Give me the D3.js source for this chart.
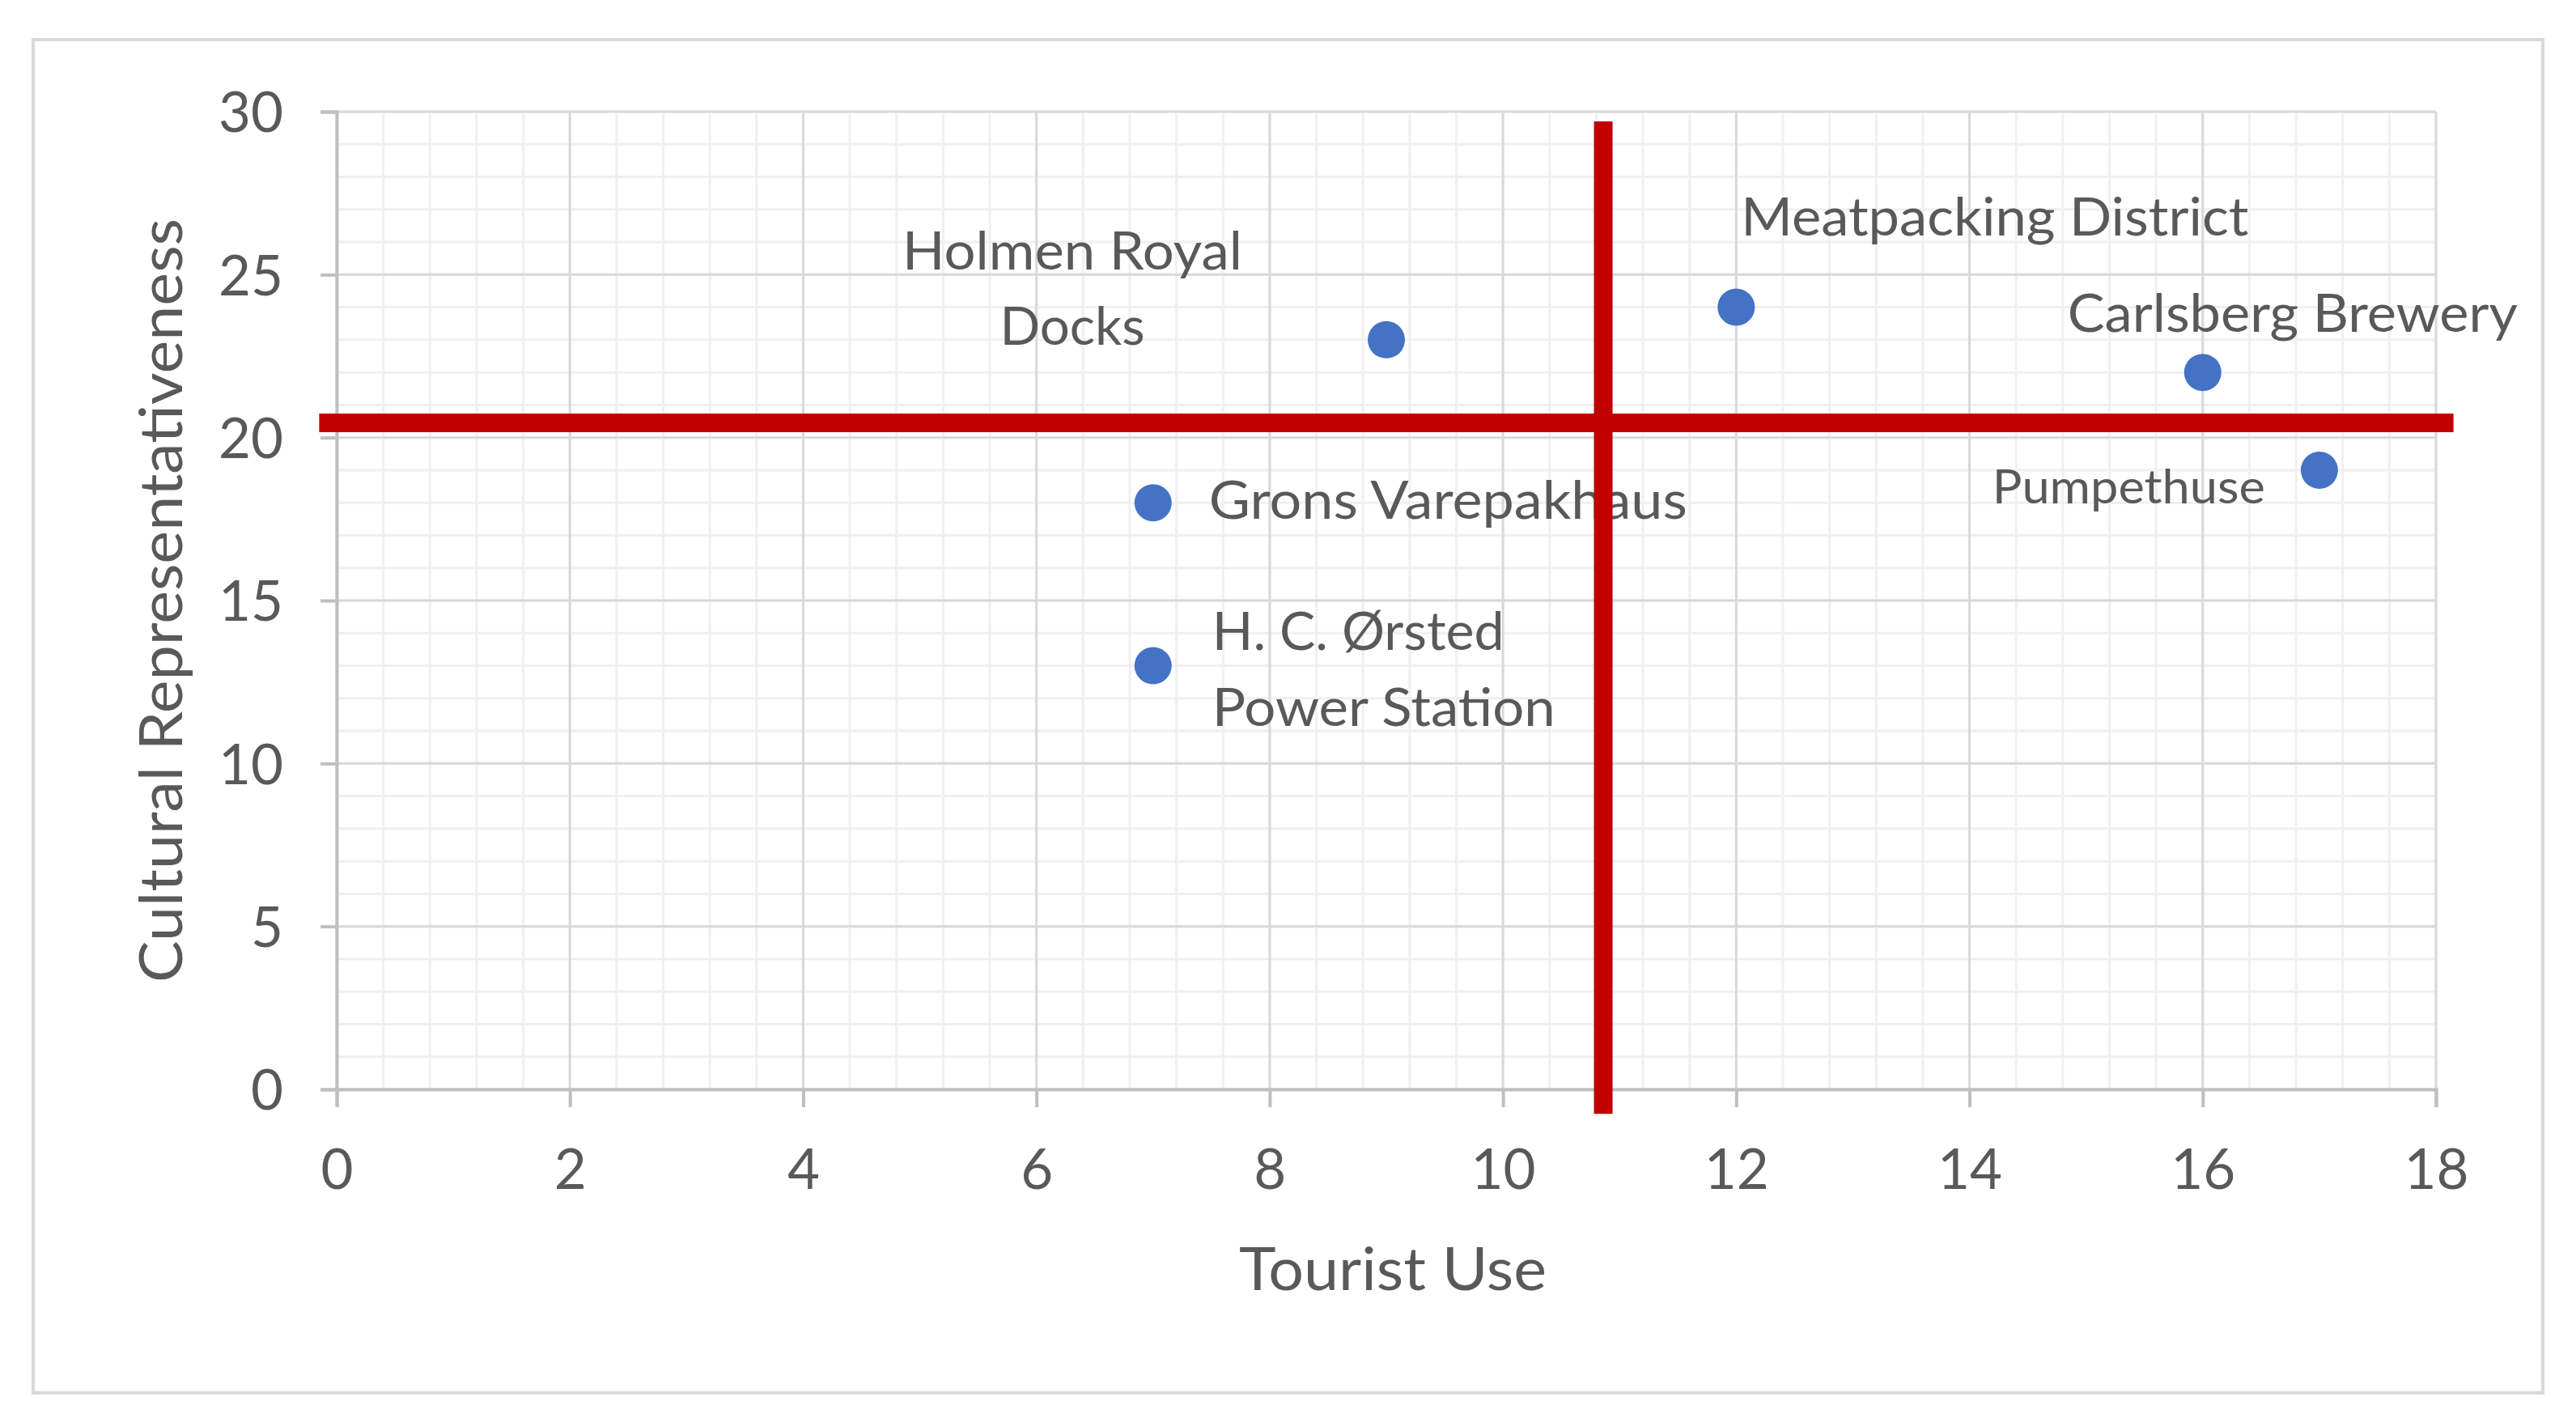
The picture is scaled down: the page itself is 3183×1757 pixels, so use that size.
<!DOCTYPE html>
<html>
<head>
<meta charset="utf-8">
<script src="https://cdn.jsdelivr.net/npm/d3@7"></script>
<style>
  html, body { margin: 0; padding: 0; background: #fff; }
  svg { display: block; }
  text { font-family: Lato, "Open Sans", sans-serif; fill: #595959; }
</style>
</head>
<body>
<svg id="chart" width="3183" height="1757"></svg>
<script>
// data
var sites = ['Holmen Royal Docks', 'Meatpacking District', 'Carlsberg Brewery',
  'Pumpethuse', 'Grons Varepakhaus', 'H. C. Ørsted Power Station'];
var touristUse = [9, 12, 16, 17, 7, 7];
var culturalRep = [23, 24, 22, 19, 18, 13];

var xTicks = [0, 2, 4, 6, 8, 10, 12, 14, 16, 18];
var yTicks = [0, 5, 10, 15, 20, 25, 30];
var xTitle = 'Tourist Use';
var yTitle = 'Cultural Representativeness';

// red quadrant dividers (data units)
var hDivider = { y: 20.45, from: -0.15, to: 18.15 };
var vDivider = { x: 10.86, from: 29.7, to: -0.75 };

var W = 3183, H = 1757;
var plot = { left: 416, right: 3010, top: 138, bottom: 1346 };

var svg = d3.select('#chart');

var x = d3.scaleLinear().domain([0, 18]).range([plot.left, plot.right]);
var y = d3.scaleLinear().domain([0, 30]).range([plot.bottom, plot.top]);

// outer frame
svg.append('rect')
  .attr('x', 41).attr('y', 49)
  .attr('width', 3101).attr('height', 1672)
  .attr('fill', '#fff')
  .attr('stroke', '#d9d9d9')
  .attr('stroke-width', 4);

// minor grid
var xMinor = d3.range(0, 18.001, 0.4);
var yMinor = d3.range(0, 30.001, 1);
var grid = svg.append('g');
grid.selectAll('.xminor').data(xMinor).enter().append('line')
  .attr('x1', d => x(d)).attr('x2', d => x(d))
  .attr('y1', plot.top).attr('y2', plot.bottom)
  .attr('stroke', '#f0f0f0').attr('stroke-width', 3);
grid.selectAll('.yminor').data(yMinor).enter().append('line')
  .attr('y1', d => y(d)).attr('y2', d => y(d))
  .attr('x1', plot.left).attr('x2', plot.right)
  .attr('stroke', '#f0f0f0').attr('stroke-width', 3);

// major grid
grid.selectAll('.xmajor').data(xTicks).enter().append('line')
  .attr('x1', d => x(d)).attr('x2', d => x(d))
  .attr('y1', plot.top).attr('y2', plot.bottom)
  .attr('stroke', '#d9d9d9').attr('stroke-width', 3);
grid.selectAll('.ymajor').data(yTicks).enter().append('line')
  .attr('y1', d => y(d)).attr('y2', d => y(d))
  .attr('x1', plot.left).attr('x2', plot.right)
  .attr('stroke', '#d9d9d9').attr('stroke-width', 3);

// axes
var xAxis = d3.axisBottom(x).tickValues(xTicks).tickSize(22).tickPadding(52);
var yAxis = d3.axisLeft(y).tickValues(yTicks).tickSize(20).tickPadding(46);

var gx = svg.append('g')
  .attr('transform', 'translate(0,' + plot.bottom + ')')
  .call(xAxis);
var gy = svg.append('g')
  .attr('transform', 'translate(' + plot.left + ',0)')
  .call(yAxis);

[gx, gy].forEach(function(g) {
  g.select('.domain').attr('stroke', '#bfbfbf').attr('stroke-width', 4);
  g.selectAll('.tick line').attr('stroke', '#bfbfbf').attr('stroke-width', 4);
  g.selectAll('.tick text')
    .attr('fill', '#595959')
    .style('font-size', '69px')
    .style('font-family', 'Lato, "Open Sans", sans-serif');
});
gx.selectAll('.tick text').attr('dy', '0.71em');
gy.selectAll('.tick text').attr('dy', '0.36em');

// axis titles
svg.append('text')
  .attr('x', (plot.left + plot.right) / 2 + 8)
  .attr('y', 1594)
  .attr('text-anchor', 'middle')
  .style('font-size', '74px')
  .attr('textLength', 380).attr('lengthAdjust', 'spacingAndGlyphs')
  .text(xTitle);

svg.append('text')
  .attr('transform', 'translate(225,' + ((plot.top + plot.bottom) / 2) + ') rotate(-90)')
  .attr('text-anchor', 'middle')
  .style('font-size', '74px')
  .attr('textLength', 944).attr('lengthAdjust', 'spacingAndGlyphs')
  .text(yTitle);

// points
var pts = sites.map(function(s, i) {
  return { name: s, tu: touristUse[i], cr: culturalRep[i] };
});

svg.append('g').selectAll('circle').data(pts).enter().append('circle')
  .attr('cx', d => x(d.tu))
  .attr('cy', d => y(d.cr))
  .attr('r', 23)
  .attr('fill', '#4472C4');

// data label placement relative to the point (px)
var labelLayout = {
  'Holmen Royal Docks': { lines: ['Holmen Royal', 'Docks'], dx: -388, dy: [-111, -18], anchor: 'middle', size: 66, widths: [420, 179] },
  'Meatpacking District': { lines: ['Meatpacking District'], dx: 6, dy: [-112], anchor: 'start', size: 66, widths: [627] },
  'Carlsberg Brewery': { lines: ['Carlsberg Brewery'], dx: -167, dy: [-74], anchor: 'start', size: 66, widths: [556] },
  'Pumpethuse': { lines: ['Pumpethuse'], dx: -404, dy: [20], anchor: 'start', size: 58, widths: [337] },
  'Grons Varepakhaus': { lines: ['Grons Varepakhaus'], dx: 69, dy: [-4], anchor: 'start', size: 66, widths: [591] },
  'H. C. Ørsted Power Station': { lines: ['H. C. Ørsted', 'Power Station'], dx: 73, dy: [-43, 51], anchor: 'start', size: 66, widths: [361, 424] }
};

var labels = svg.append('g');
pts.forEach(function(d) {
  var lay = labelLayout[d.name];
  lay.lines.forEach(function(line, j) {
    labels.append('text')
      .attr('x', x(d.tu) + lay.dx)
      .attr('y', y(d.cr) + lay.dy[j] + lay.size * 0.36)
      .attr('text-anchor', lay.anchor)
      .style('font-size', lay.size + 'px')
      .attr('textLength', lay.widths[j])
      .attr('lengthAdjust', 'spacingAndGlyphs')
      .text(line);
  });
});

// quadrant dividers
svg.append('line')
  .attr('x1', x(hDivider.from)).attr('x2', x(hDivider.to))
  .attr('y1', y(hDivider.y)).attr('y2', y(hDivider.y))
  .attr('stroke', '#C00000').attr('stroke-width', 23);
svg.append('line')
  .attr('x1', x(vDivider.x)).attr('x2', x(vDivider.x))
  .attr('y1', y(vDivider.from)).attr('y2', y(vDivider.to))
  .attr('stroke', '#C00000').attr('stroke-width', 23);
</script>
</body>
</html>
